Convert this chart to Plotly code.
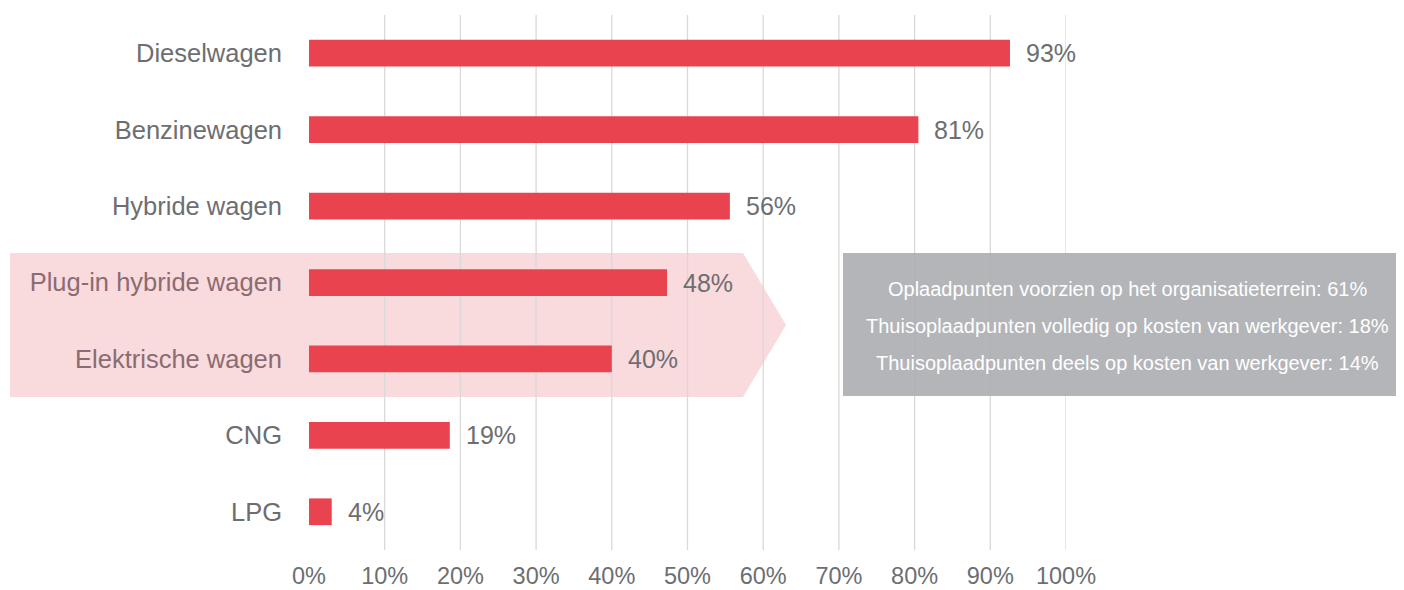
import plotly.graph_objects as go

categories = ["Dieselwagen", "Benzinewagen", "Hybride wagen", "Plug-in hybride wagen",
              "Elektrische wagen", "CNG", "LPG"]
values = [92.6, 80.5, 55.6, 47.3, 40.0, 18.6, 3.0]
value_labels = ["93%", "81%", "56%", "48%", "40%", "19%", "4%"]
highlighted = ["Plug-in hybride wagen", "Elektrische wagen"]
x_ticks = [0, 10, 20, 30, 40, 50, 60, 70, 80, 90, 100]
x_tick_labels = ["0%", "10%", "20%", "30%", "40%", "50%", "60%", "70%", "80%", "90%", "100%"]
grid_values = [10, 20, 30, 40, 50, 60, 70, 80, 90, 100]
box_lines = [
    "Oplaadpunten voorzien op het organisatieterrein: 61%",
    "Thuisoplaadpunten volledig op kosten van werkgever: 18%",
    "Thuisoplaadpunten deels op kosten van werkgever: 14%",
]

FONT = "Liberation Sans, Arial, sans-serif"
GRAY = "#6d6e71"
BAR = "#e8434f"

ticktext = []
for c in categories:
    if c in highlighted:
        ticktext.append(f'<span style="color:#8a6c72">{c}</span>')
    else:
        ticktext.append(c)

fig = go.Figure()
fig.add_trace(go.Bar(
    x=values, y=categories, orientation="h",
    marker=dict(color=BAR, line=dict(width=0)),
    width=0.35, hoverinfo="skip",
))

# page body margin offset (8px) compensation
OFF = 8
W, H = 1404 - OFF, 590 - OFF
ml = 309 - OFF
mt = 15 - OFF
mr = W - (1066 - OFF)
mb = H - (550 - OFF)


def px_x(p):
    return (p - OFF - ml) / (W - ml - mr)


def px_y(p):
    return (H - mb - (p - OFF)) / (H - mt - mb)


shapes = []
arrow = (f"M {px_x(10)} {px_y(253)} L {px_x(743)} {px_y(253)} L {px_x(786)} {px_y(325)} "
         f"L {px_x(743)} {px_y(397)} L {px_x(10)} {px_y(397)} Z")
shapes.append(dict(type="path", path=arrow, xref="paper", yref="paper",
                   fillcolor="#f9dadd", line=dict(width=0), layer="below"))
for g in grid_values:
    shapes.append(dict(type="line", xref="x", yref="paper", x0=g, x1=g, y0=0, y1=1,
                       line=dict(color="#d9d9d9", width=1.3), layer="below"))
shapes.append(dict(type="rect", xref="paper", yref="paper",
                   x0=px_x(843), x1=px_x(1404), y0=px_y(396), y1=px_y(253),
                   fillcolor="rgba(172,173,177,0.9)", line=dict(width=0), layer="above"))

annotations = []
for v, lab, c in zip(values, value_labels, categories):
    annotations.append(dict(x=v, y=c, xref="x", yref="y", text=lab, showarrow=False,
                            xanchor="left", xshift=14, font=dict(family=FONT, size=25, color=GRAY)))
for i, line in enumerate(box_lines):
    annotations.append(dict(x=px_x(1127), y=px_y(289 + 37 * i), xref="paper", yref="paper",
                            text=line, showarrow=False, xanchor="center", yanchor="middle",
                            font=dict(family=FONT, size=20, color="white")))

fig.update_layout(
    width=W, height=H,
    margin=dict(l=ml, r=mr, t=mt, b=mb, autoexpand=False),
    plot_bgcolor="rgba(0,0,0,0)", paper_bgcolor="white",
    showlegend=False, bargap=0.65,
    shapes=shapes, annotations=annotations,
    xaxis=dict(range=[0, 100], tickvals=x_ticks, ticktext=x_tick_labels, showgrid=False,
               zeroline=False, showline=False, ticks="", ticklabelstandoff=9, automargin=False,
               tickfont=dict(family=FONT, size=23.5, color=GRAY)),
    yaxis=dict(categoryorder="array", categoryarray=categories, autorange="reversed",
               tickvals=categories, ticktext=ticktext, showgrid=False, zeroline=False,
               showline=False, ticks="", ticklabelstandoff=26, automargin=False,
               tickfont=dict(family=FONT, size=25.5, color=GRAY)),
)

fig.write_html("out.html")
